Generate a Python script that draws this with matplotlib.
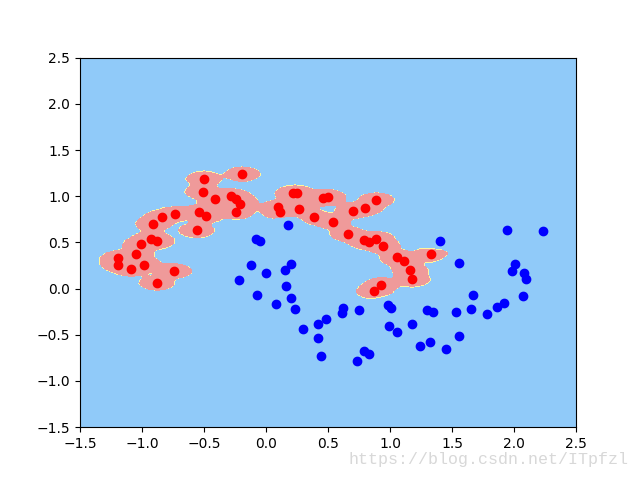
import numpy as np
import matplotlib
matplotlib.use('Agg')
import matplotlib.pyplot as plt
from matplotlib.colors import ListedColormap

# 上の月 (class 0, 赤)
red_x = [-0.50, -0.19, -0.51, -0.41, -0.28, -0.24, -0.21, -0.24, -0.54, -0.48,
         -0.56, -0.73, -0.84, -0.91, -0.93, -0.88, -1.01, -1.05, -1.19, -1.19,
         -1.09, -0.98, -0.74, -0.88, 0.22, 0.25, 0.46, 0.50, 0.10, 0.11,
         0.27, 0.39, 0.54, 0.70, 0.80, 0.89, 0.66, 0.79, 0.83, 0.89,
         0.94, 1.06, 1.11, 1.16, 1.18, 1.33, 0.93, 0.87]
red_y = [1.19, 1.24, 1.05, 0.97, 1.00, 0.97, 0.92, 0.83, 0.83, 0.79,
         0.63, 0.81, 0.77, 0.70, 0.54, 0.51, 0.48, 0.37, 0.33, 0.26,
         0.21, 0.26, 0.19, 0.06, 1.03, 1.03, 0.98, 0.99, 0.88, 0.83,
         0.86, 0.77, 0.72, 0.84, 0.87, 0.96, 0.59, 0.53, 0.50, 0.54,
         0.46, 0.34, 0.30, 0.20, 0.10, 0.37, 0.04, -0.03]

# 下の月 (class 1, 青)
blue_x = [0.18, -0.08, -0.05, -0.12, 0.00, 0.20, 0.15, -0.22, 0.16, -0.07,
          0.20, 0.08, 0.23, 0.30, 0.42, 0.48, 0.42, 0.44, 0.62, 0.61,
          0.75, 0.79, 0.83, 0.73, 1.40, 1.94, 2.23, 1.56, 2.01, 1.98,
          2.08, 2.10, 1.67, 2.07, 0.98, 1.01, 1.30, 1.35, 1.53, 1.65,
          1.78, 1.86, 1.92, 0.99, 1.06, 1.18, 1.56, 1.32, 1.24, 1.45]
blue_y = [0.69, 0.54, 0.52, 0.26, 0.17, 0.27, 0.20, 0.09, 0.03, -0.07,
          -0.10, -0.17, -0.22, -0.44, -0.38, -0.33, -0.53, -0.73, -0.21, -0.26,
          -0.23, -0.68, -0.71, -0.78, 0.51, 0.63, 0.62, 0.28, 0.27, 0.19,
          0.17, 0.10, -0.07, -0.08, -0.18, -0.21, -0.23, -0.25, -0.25, -0.22,
          -0.27, -0.20, -0.16, -0.40, -0.47, -0.38, -0.51, -0.58, -0.62, -0.65]

axis = [-1.5, 2.5, -1.5, 2.5]

X_red = np.column_stack([red_x, red_y])
X_blue = np.column_stack([blue_x, blue_y])
X_all = np.vstack([X_red, X_blue])
mu = X_all.mean(axis=0)
sd = X_all.std(axis=0)

# 標準化した空間でRBFカーネル (gamma=100) の決定関数を近似
gamma = 100
x0, x1 = np.meshgrid(
    np.linspace(axis[0], axis[1], int((axis[1] - axis[0]) * 100)),
    np.linspace(axis[2], axis[3], int((axis[3] - axis[2]) * 100)),
)
grid = np.column_stack([x0.ravel(), x1.ravel()])
g = (grid - mu) / sd


def kernel_sum(pts):
    p = (pts - mu) / sd
    d2 = ((g[:, None, :] - p[None, :, :]) ** 2).sum(axis=2)
    return np.exp(-gamma * d2).sum(axis=1)


score = kernel_sum(X_red) - kernel_sum(X_blue)
y_pred = np.where(score > 0.06, 0, 1)
zz = y_pred.reshape(x0.shape)

custom_cmap = ListedColormap(['#EF9A9A', '#FFF59D', '#90CAF9'])

plt.figure(figsize=(6.4, 4.8), dpi=100)
plt.contourf(x0, x1, zz, cmap=custom_cmap)
plt.scatter(red_x, red_y, color='red')
plt.scatter(blue_x, blue_y, color='blue')
plt.xlim(axis[0], axis[1])
plt.ylim(axis[2], axis[3])

plt.gcf().text(0.544, 0.042, 'https://blog.csdn.net/ITpfzl', color='#d8d8d8',
               family='Liberation Mono', fontsize=12, va='center')
plt.savefig('out.png')
